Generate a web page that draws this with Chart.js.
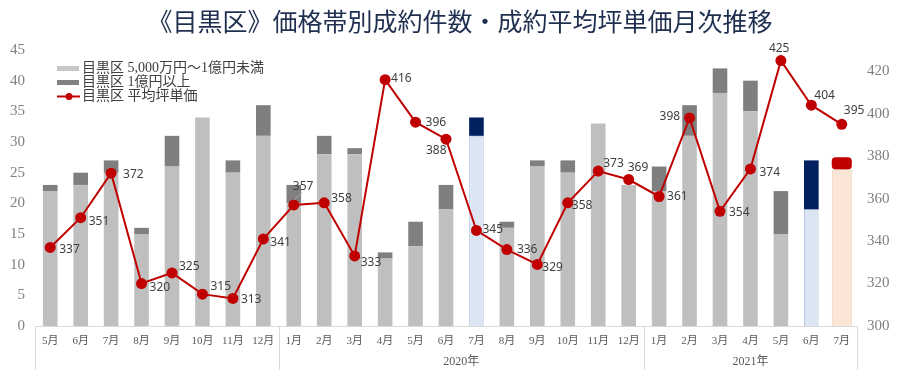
<!DOCTYPE html>
<html lang="ja">
<head>
<meta charset="utf-8">
<title>目黒区 価格帯別成約件数・成約平均坪単価</title>
<script src="https://cdn.jsdelivr.net/npm/chart.js@4/dist/chart.umd.min.js"></script>
<style>
  html, body { margin: 0; padding: 0; background: #fff; }
  #wrap { width: 900px; height: 370px; position: relative; }
</style>
</head>
<body>
<div id="wrap"><canvas id="myChart"></canvas></div>
<script>
// 月ラベル (2019年5月〜2021年7月)
const months = ["5月", "6月", "7月", "8月", "9月", "10月", "11月", "12月",
  "1月", "2月", "3月", "4月", "5月", "6月", "7月", "8月", "9月", "10月", "11月", "12月",
  "1月", "2月", "3月", "4月", "5月", "6月", "7月"];
// 年グループ (開始index, 件数, ラベル)
const yearGroups = [
  { start: 0, count: 8, label: "" },
  { start: 8, count: 12, label: "2020年" },
  { start: 20, count: 7, label: "2021年" },
];

// 成約件数 5,000万円〜1億円未満
const lowCount = [22, 23, 25, 15, 26, 34, 25, 31,
  20, 28, 28, 11, 13, 19, 31, 16, 26, 25, 33, 23,
  22, 31, 38, 35, 15, 19, null];
// 成約件数 1億円以上
const highCount = [1, 2, 2, 1, 5, 0, 2, 5,
  3, 3, 1, 1, 4, 4, 3, 1, 1, 2, 0, 0,
  4, 5, 4, 5, 7, 8, null];
// 最新月 (2021年7月)
const latestLow = 25.5;
const latestHigh = 2;
// 平均坪単価 (万円)
const avgPrice = [337, 351, 372, 320, 325, 315, 313, 341,
  357, 358, 333, 416, 396, 388, 345, 336, 329, 358, 373, 369,
  361, 398, 354, 374, 425, 404, 395];

const leftTicks = { min: 0, max: 45, step: 5 };
const rightTicks = { min: 300, max: 430, step: 20 };

// 強調する月 (2020年7月, 2021年6月)
const highlight = [14, 25];
const lastIdx = months.length - 1;

const SERIF = "'Liberation Serif', 'Noto Sans CJK JP', serif";
const SANS = "'Noto Sans', 'Noto Sans CJK JP', sans-serif";

// 数値ラベルの位置調整 [dx, dy]
const labelOffsets = [
  [9, 2], [8, 4], [12, 1], [8, 4], [7, -6], [8, -8], [8, 1], [7, 4],
  [-1, -18], [7, -4], [6, 7], [6, -1], [10, 0], [-20, 11], [6, -1], [10, 0], [5, 3], [4, 3], [5, -7], [-1, -12],
  [8, 0], [-30, -1], [9, 1], [9, 4], [-12, -12], [3, -10], [2, -14],
];

const lowColors = months.map((m, i) => highlight.includes(i) ? "#dce6f2" : "#bfbfbf");
const lowBorderW = months.map((m, i) => highlight.includes(i) ? 1 : 0);
const highColors = months.map((m, i) => highlight.includes(i) ? "#002060" : "#7f7f7f");

// タイトル・凡例・年ラベル・数値ラベル
const decoPlugin = {
  id: "deco",
  afterDraw(chart) {
    const ctx = chart.ctx;
    const area = chart.chartArea;
    ctx.save();

    // タイトル
    ctx.fillStyle = "#1f2f4f";
    ctx.font = "25px " + SERIF;
    ctx.textAlign = "center";
    ctx.textBaseline = "middle";
    ctx.fillText("《目黒区》価格帯別成約件数・成約平均坪単価月次推移", 460, 24);

    // 年区切り線と年ラベル
    const step = (area.right - area.left) / months.length;
    ctx.strokeStyle = "#d9d9d9";
    ctx.lineWidth = 1;
    ctx.font = "12px " + SERIF;
    ctx.fillStyle = "#595959";
    yearGroups.forEach((g) => {
      const x0 = area.left + g.start * step;
      const x1 = area.left + (g.start + g.count) * step;
      [x0, x1].forEach((x) => {
        ctx.beginPath();
        ctx.moveTo(Math.round(x) + 0.5, area.bottom);
        ctx.lineTo(Math.round(x) + 0.5, chart.height);
        ctx.stroke();
      });
      if (g.label) ctx.fillText(g.label, (x0 + x1) / 2, 362);
    });

    // 凡例
    ctx.font = "14px " + SERIF;
    ctx.textAlign = "left";
    ctx.fillStyle = "#c8c8c8";
    ctx.fillRect(57, 66, 22, 5);
    ctx.fillStyle = "#808080";
    ctx.fillRect(57, 80, 22, 5);
    ctx.strokeStyle = "#c00000";
    ctx.lineWidth = 2;
    ctx.beginPath();
    ctx.moveTo(57, 96.5);
    ctx.lineTo(80, 96.5);
    ctx.stroke();
    ctx.fillStyle = "#c00000";
    ctx.beginPath();
    ctx.arc(69, 96.5, 3.5, 0, Math.PI * 2);
    ctx.fill();
    ctx.fillStyle = "#404040";
    ctx.fillText("目黒区 5,000万円～1億円未満", 82, 68.5);
    ctx.fillText("目黒区 1億円以上", 82, 82.5);
    ctx.fillText("目黒区 平均坪単価", 82, 96.5);

    // 平均坪単価の数値
    const meta = chart.getDatasetMeta(0);
    ctx.font = "12px " + SANS;
    ctx.fillStyle = "#404040";
    meta.data.forEach((pt, i) => {
      const off = labelOffsets[i] || [8, 0];
      ctx.fillText(String(avgPrice[i]), pt.x + off[0], pt.y + off[1]);
    });
    // 2020年1月ラベルの引き出し線
    const p = meta.data[8];
    if (p) {
      ctx.strokeStyle = "#a6a6a6";
      ctx.lineWidth = 1;
      ctx.beginPath();
      ctx.moveTo(p.x, p.y - 5);
      ctx.lineTo(p.x + 8, p.y - 12);
      ctx.stroke();
    }
    ctx.restore();
  },
};

const ctx = document.getElementById("myChart").getContext("2d");
const myChart = new Chart(ctx, {
  type: "bar",
  data: {
    labels: months,
    datasets: [
      {
        type: "line",
        label: "目黒区 平均坪単価",
        data: avgPrice,
        yAxisID: "y1",
        borderColor: "#c00000",
        borderWidth: 2,
        pointRadius: 5.5,
        pointBackgroundColor: "#c00000",
        pointBorderWidth: 0,
        tension: 0,
        order: 0,
      },
      {
        label: "目黒区 5,000万円～1億円未満",
        data: lowCount,
        backgroundColor: lowColors,
        borderColor: "#b4c7e7",
        borderWidth: lowBorderW,
        borderSkipped: "bottom",
        categoryPercentage: 1,
        barPercentage: 0.48,
        order: 1,
      },
      {
        label: "目黒区 1億円以上",
        data: highCount,
        backgroundColor: highColors,
        borderWidth: 0,
        categoryPercentage: 1,
        barPercentage: 0.48,
        order: 1,
      },
      {
        label: "latest-low",
        data: months.map((m, i) => (i === lastIdx ? latestLow : null)),
        backgroundColor: "#fbe5d6",
        borderColor: "#f1cdb5",
        borderWidth: 1,
        borderSkipped: "bottom",
        categoryPercentage: 1,
        barPercentage: 0.66,
        order: 1,
      },
      {
        label: "latest-high",
        data: months.map((m, i) => (i === lastIdx ? latestHigh : null)),
        backgroundColor: "#c00000",
        borderWidth: 0,
        borderRadius: 4,
        borderSkipped: false,
        categoryPercentage: 1,
        barPercentage: 0.66,
        order: 1,
      },
    ],
  },
  options: {
    responsive: true,
    maintainAspectRatio: false,
    animation: false,
    layout: { padding: { top: 50, left: 0, right: 0, bottom: 0 } },
    plugins: {
      legend: { display: false },
      title: { display: false },
      tooltip: { enabled: false },
    },
    scales: {
      x: {
        stacked: true,
        grid: { display: false, drawTicks: false },
        border: { display: true, color: "#d9d9d9" },
        ticks: {
          autoSkip: false,
          maxRotation: 0,
          padding: 9,
          color: "#595959",
          font: { family: SERIF, size: 11 },
        },
        afterFit(scale) {
          scale.height = 44;
        },
      },
      y: {
        stacked: true,
        position: "left",
        min: leftTicks.min,
        max: leftTicks.max,
        grid: { display: false, drawTicks: false },
        border: { display: false },
        ticks: {
          stepSize: leftTicks.step,
          padding: 10,
          color: "#808080",
          font: { family: SERIF, size: 15 },
        },
        afterFit(scale) {
          scale.width = 35;
        },
      },
      y1: {
        position: "right",
        min: rightTicks.min,
        max: rightTicks.max,
        grid: { display: false, drawTicks: false },
        border: { display: false },
        ticks: {
          stepSize: rightTicks.step,
          padding: 10,
          color: "#808080",
          font: { family: SERIF, size: 15 },
          callback: (v) => (v === rightTicks.max ? "" : v),
        },
        afterFit(scale) {
          scale.width = 43;
        },
      },
    },
  },
  plugins: [decoPlugin],
});
</script>
</body>
</html>
